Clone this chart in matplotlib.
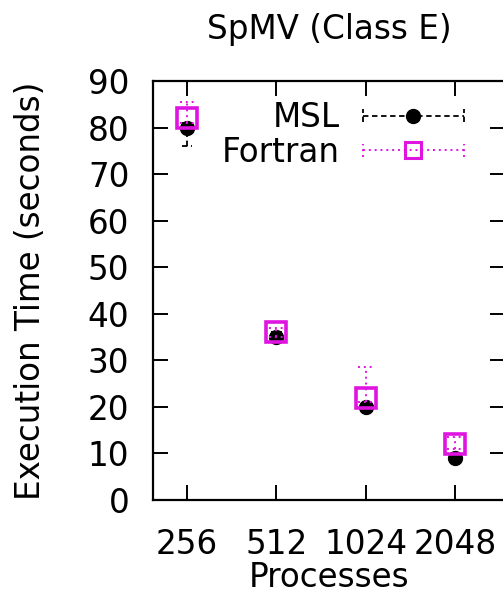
import matplotlib
matplotlib.use("Agg")
import matplotlib.pyplot as plt
import numpy as np
from matplotlib.lines import Line2D
from matplotlib.legend_handler import HandlerBase

plt.rcParams['font.family'] = ['DejaVu Sans']

# Data: execution times (seconds) with asymmetric error bars
processes = [256, 512, 1024, 2048]
tick_labels = ['256', '512', '1024', '2048']
msl_time = [80, 35, 20, 9]
msl_err_lo = [4, 1, 0.5, 0.5]
msl_err_hi = [1, 1, 0.5, 0.5]
fortran_time = [82, 36, 22, 12]
fortran_err_lo = [1, 1, 1, 1]
fortran_err_hi = [3.5, 1, 6.5, 1.5]
series_labels = ['MSL', 'Fortran']
y_ticks = [0, 10, 20, 30, 40, 50, 60, 70, 80, 90]

MAGENTA = '#e014e0'
FS = 23.5
MSL_DASH = (0, (3, 2))
FORTRAN_DOT = (0, (1, 2))


class ErrorKey(HandlerBase):
    """Legend sample: horizontal errorbar-style line with end caps and marker."""

    def __init__(self, color, ls, marker, ms, mfc, mew, lw):
        super().__init__()
        self.kw = dict(color=color, ls=ls, marker=marker, ms=ms,
                       mfc=mfc, mew=mew, lw=lw)

    def create_artists(self, legend, orig_handle, xdescent, ydescent,
                       width, height, fontsize, trans):
        k = self.kw
        y = height / 2 - ydescent
        x0, x1 = -xdescent, width - xdescent
        cap = height * 0.28
        arts = [
            Line2D([x0, x1], [y, y], color=k['color'], ls=k['ls'], lw=k['lw']),
            Line2D([x0, x0], [y - cap, y + cap], color=k['color'], ls=k['ls'], lw=k['lw']),
            Line2D([x1, x1], [y - cap, y + cap], color=k['color'], ls=k['ls'], lw=k['lw']),
            Line2D([(x0 + x1) / 2], [y], ls='none', marker=k['marker'],
                   ms=k['ms'], mfc=k['mfc'], mec=k['color'], mew=k['mew']),
        ]
        for a in arts:
            a.set_transform(trans)
        return arts


def draw_errorbars(ax, x, y, lo, hi, color, ls, cap_octaves, lw, zorder):
    """Vertical error bars with styled (dashed/dotted) end caps on a log2 x axis."""
    x = np.asarray(x, float)
    y = np.asarray(y, float)
    ylo = y - np.asarray(lo, float)
    yhi = y + np.asarray(hi, float)
    ax.vlines(x, ylo, yhi, colors=color, linestyles=[ls], linewidths=lw, zorder=zorder)
    xl = x / 2 ** cap_octaves
    xr = x * 2 ** cap_octaves
    for yy in (ylo, yhi):
        ax.hlines(yy, xl, xr, colors=color, linestyles=[ls], linewidths=lw, zorder=zorder)


fig = plt.figure(figsize=(5.03, 6.06), dpi=100)
ax = fig.add_axes([153 / 503, 1 - 500 / 606, 352 / 503, 419 / 606])
ax.set_xscale('log', base=2)

draw_errorbars(ax, processes, msl_time, msl_err_lo, msl_err_hi,
               'black', MSL_DASH, 0.06, 1.3, 3)
ax.plot(processes, msl_time, ls='none', marker='o', ms=10, color='black', zorder=3)

draw_errorbars(ax, processes, fortran_time, fortran_err_lo, fortran_err_hi,
               MAGENTA, FORTRAN_DOT, 0.085, 1.4, 4)
ax.plot(processes, fortran_time, ls='none', marker='s', ms=14, mfc='none',
        mec=MAGENTA, mew=2.6, zorder=4)

ax.set_xlim(256 / 2 ** (34 / 89), 2048 * 2 ** (50 / 89))
ax.set_ylim(0, 90)
ax.set_xticks(processes)
ax.set_xticklabels(tick_labels)
ax.xaxis.set_minor_locator(matplotlib.ticker.NullLocator())
ax.set_yticks(y_ticks)

ax.tick_params(axis='both', which='major', direction='in', length=11, width=1.4,
               top=True, right=True, labelsize=FS, color='black')
ax.tick_params(axis='y', pad=17)
ax.tick_params(axis='x', pad=20)
for s in ax.spines.values():
    s.set_linewidth(1.6)

ax.set_title('SpMV (Class E)', fontsize=FS, pad=30)
ax.set_xlabel('Processes', fontsize=FS)
ax.set_ylabel('Execution Time (seconds)', fontsize=FS)
ax.xaxis.set_label_coords(0.5, -0.145)
ax.yaxis.set_label_coords(-0.30, 0.5)

h_msl = Line2D([], [])
h_fortran = Line2D([], [])
leg = ax.legend([h_msl, h_fortran], series_labels,
                handler_map={
                    h_msl: ErrorKey('black', MSL_DASH, 'o', 10, 'black', 1, 1.3),
                    h_fortran: ErrorKey(MAGENTA, FORTRAN_DOT, 's', 12, 'none', 2.2, 1.4),
                },
                loc='upper right', bbox_to_anchor=((463 - 153) / 351, 0.952),
                frameon=False, markerfirst=False, fontsize=FS,
                handlelength=3.1, handletextpad=0.7, labelspacing=0.05,
                borderpad=0, borderaxespad=0)

fig.savefig('out.png', dpi=100)
